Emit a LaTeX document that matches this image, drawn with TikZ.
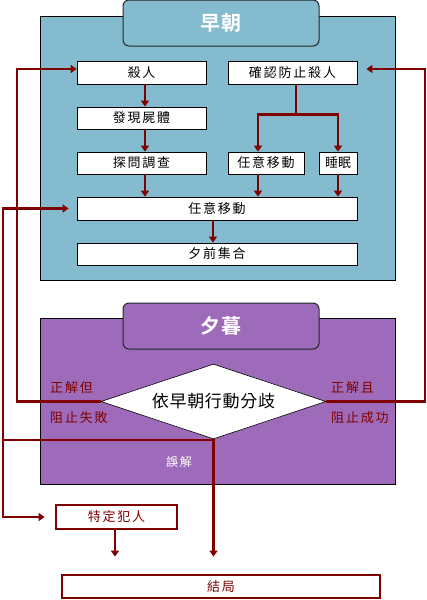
\documentclass[tikz,border=0pt]{standalone}
\usepackage{fontspec}
\newfontfamily\cjk[LetterSpace=14]{Noto Sans CJK TC}
\newfontfamily\cjkb[LetterSpace=6]{Noto Sans CJK TC Bold}
\usetikzlibrary{arrows.meta,shapes.geometric,calc}
\definecolor{morn}{HTML}{85BBCF}
\definecolor{eve}{HTML}{9E6BBB}
\definecolor{dred}{HTML}{800000}
\begin{document}
\begin{tikzpicture}[x=1pt,y=-1pt,
  panel/.style={draw=black,line width=1pt,minimum width=355pt,inner sep=0pt},
  tab/.style={draw=black!85,line width=1pt,rounded corners=6pt,minimum width=196pt,minimum height=46pt,inner sep=0pt,text=white,font=\cjkb\fontsize{20}{22}\selectfont},
  box/.style={draw=black,line width=0.8pt,fill=white,inner sep=0pt,font=\cjk\fontsize{13}{14}\selectfont},
  rbox/.style={draw=dred,line width=2.8pt,fill=white,inner sep=0pt,text=dred,font=\cjk\fontsize{13}{14}\selectfont},
  arr/.style={draw=dred,line width=2.5pt,-{Triangle[length=6pt,width=8pt]}},
  ln/.style={draw=dred,line width=2.5pt},
  lbl/.style={text=dred,inner sep=0pt,font=\cjk\fontsize{13}{14}\selectfont}
]
\useasboundingbox (0,0) rectangle (427,600);
% panels
\node[panel,fill=morn,minimum height=264pt] (mp) at (217.5,148) {};
\node[tab,fill=morn] (mt) at (221,23) {早朝};
\node[panel,fill=eve,minimum height=166pt] (ep) at (217.5,401) {};
\node[tab,fill=eve] (et) at (221,326) {夕暮};
% morning boxes
\node[box,minimum width=129pt,minimum height=23pt] (kill) at (141.5,72.5) {殺人};
\node[box,minimum width=129pt,minimum height=23pt] (prev) at (292.5,72.5) {確認防止殺人};
\node[box,minimum width=129pt,minimum height=22pt] (body) at (141.5,118) {發現屍體};
\node[box,minimum width=129pt,minimum height=22pt] (inv) at (141.5,163) {探問調查};
\node[box,minimum width=76pt,minimum height=22pt] (mv1) at (266,163) {任意移動};
\node[box,minimum width=38pt,minimum height=22pt,font=\cjk\fontsize{13}{14}\selectfont\addfontfeature{LetterSpace=0}] (sleep) at (338,163) {睡眠};
\node[box,minimum width=280pt,minimum height=23pt] (mv) at (217,208.5) {任意移動};
\node[box,minimum width=280pt,minimum height=22pt] (gather) at (217,254) {夕前集合};
% morning arrows
\draw[arr] ([xshift=3.5pt]kill.south) -- ([xshift=3.5pt]body.north);
\draw[arr] ([xshift=3.5pt]body.south) -- ([xshift=3.5pt]inv.north);
\draw[arr] ([xshift=3.5pt]inv.south) -- ([xshift=3.5pt]mv.north -| inv.south);
\coordinate (br) at ([xshift=3.5pt,yshift=-30pt]prev.south);
\draw[ln] ([xshift=3.5pt]prev.south) -- (br);
\draw[ln,line cap=rect] ([xshift=-8pt]br -| mv1.north) -- (br -| sleep.north);
\draw[arr] ([xshift=-8pt]br -| mv1.north) -- ([xshift=-8pt]mv1.north);
\draw[arr] (br -| sleep.north) -- (sleep.north);
\draw[arr] ([xshift=-8pt]mv1.south) -- ([xshift=-8pt]mv1.south |- mv.north);
\draw[arr] (sleep.south) -- (sleep.south |- mv.north);
\draw[arr] ([xshift=-4pt]mv.south) -- ([xshift=-4pt]gather.north);
% evening
\node[draw=black,line width=0.6pt,fill=white,diamond,aspect=3,minimum width=225pt,minimum height=75pt,inner sep=0pt,font=\cjk\fontsize{17}{18}\selectfont\addfontfeature{LetterSpace=4}] (dec) at (213.5,401.5) {依早朝行動分歧};
\node[lbl,anchor=west] (l1) at (50,388) {正解但};
\node[lbl,anchor=west] (l2) at (50,418) {阻止失敗};
\node[lbl,anchor=west] (r1) at (331,388) {正解且};
\node[lbl,anchor=west] (r2) at (331,418) {阻止成功};
\node[text=white,inner sep=0pt,font=\cjk\fontsize{12}{13}\selectfont] (mis) at (179,462) {誤解};
% bottom boxes
\node[rbox,minimum width=121pt,minimum height=24pt] (cul) at (116.5,517) {特定犯人};
\node[rbox,minimum width=318pt,minimum height=23pt] (end) at (221,586.5) {結局};
% loops
\coordinate (lc) at (17,69);
\coordinate (rc) at (425,69);
\draw[arr] (dec.west) -| (lc) -- (kill.west |- lc);
\draw[arr,shorten >=9pt] (dec.east) -| (rc) -- (prev.east |- rc);
\coordinate (oc) at (3,440);
\draw[ln] (dec.south) |- (oc);
\draw[arr,shorten >=8pt] (oc) |- (mv.west);
\draw[arr,shorten >=10pt] (oc) |- (cul.west);
\draw[arr,shorten >=17pt] (dec.south) -- (dec.south |- end.north);
\draw[arr,shorten >=17pt] ([xshift=-1.5pt]cul.south) -- ([xshift=-1.5pt]cul.south |- end.north);
\end{tikzpicture}
\end{document}
